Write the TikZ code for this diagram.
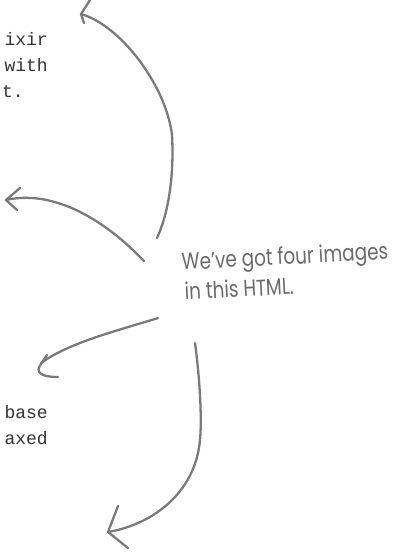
\documentclass[tikz,border=0pt]{standalone}
\usepackage{fontspec}
\setmainfont{Liberation Serif}
\newfontfamily\codefont{Liberation Mono}
\newfontfamily\handfont[FakeStretch=0.8]{Poppins}
\definecolor{arrowgray}{HTML}{7A7A7A}
\definecolor{codegray}{HTML}{333333}
\definecolor{handgray}{HTML}{6A6A6A}
\begin{document}
\begin{tikzpicture}[x=1pt,y=-1pt,
  pen/.style={draw=arrowgray,line width=2.3pt,line cap=round,line join=round},
  code/.style={font=\codefont\fontsize{18}{20}\selectfont,text=codegray,inner sep=0pt},
  hand/.style={font=\handfont\fontsize{23}{26}\selectfont,text=handgray,inner sep=0pt,rotate=3}]
\useasboundingbox (0,0) rectangle (401,552);
\clip (0,0) rectangle (401,552);
% code fragments
\node[code,anchor=base east] (c1) at (48,45) {ixir};
\node[code,anchor=base east] (c2) at (48,71) {with};
\node[code,anchor=base east] (c3) at (24,97) {t.};
\node[code,anchor=base east] (c4) at (48,418) {base};
\node[code,anchor=base east] (c5) at (48,444) {axed};
% handwritten label
\node[hand,anchor=base west] (l1) at (182,270) {We’ve got four images};
\node[hand,anchor=base west] (l2) at (185,300) {in this HTML.};
% arrow coordinates
\coordinate (t1) at (157,238); \coordinate (m1) at (172,135);
\coordinate (h1) at (81,14); \coordinate (p1) at (90,0); \coordinate (q1) at (84,23);
\coordinate (t2) at (144,261);
\coordinate (h2) at (6,200); \coordinate (p2) at (20,188); \coordinate (q2) at (17,210);
\coordinate (t3) at (158,318);
\coordinate (h3) at (37,370); \coordinate (p3) at (47,355); \coordinate (q3) at (58,377);
\coordinate (t4) at (195,343); \coordinate (m4) at (200,440);
\coordinate (h4) at (108,532); \coordinate (p4) at (118,506); \coordinate (q4) at (128,548);
% arrow 1 (top)
\draw[pen] (t1) .. controls (170,210) and (174,170) .. (m1)
                .. controls (166,85) and (120,25) .. (h1);
\draw[pen] (p1) -- (h1) -- (q1);
% arrow 2 (left)
\draw[pen] (t2) .. controls (100,215) and (50,190) .. (h2);
\draw[pen] (p2) -- (h2) -- (q2);
% arrow 3 (lower left)
\draw[pen] (t3) .. controls (120,330) and (70,342) .. (41,363);
\draw[pen] (p3) -- (41,364) .. controls (35,372) and (40,377) .. (q3);
% arrow 4 (bottom)
\draw[pen] (t4) .. controls (200,380) and (202,420) .. (m4)
                .. controls (195,495) and (150,525) .. (h4);
\draw[pen] (p4) -- (h4) -- (q4);
\end{tikzpicture}
\end{document}
